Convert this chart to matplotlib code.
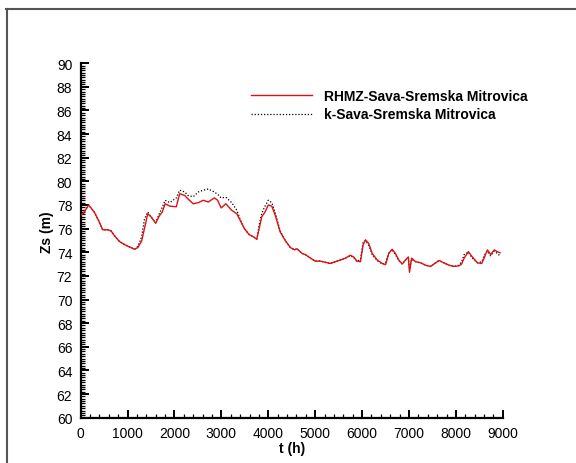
import matplotlib
matplotlib.use("Agg")
import matplotlib.pyplot as plt
from matplotlib.ticker import MultipleLocator
from matplotlib.lines import Line2D

plt.rcParams['font.family'] = ['Liberation Sans', 'DejaVu Sans']

t_hours = [0, 60, 170, 290, 380, 470, 577, 650, 720, 830, 935, 1040, 1150, 1220,
           1300, 1360, 1430, 1500, 1600, 1680, 1740, 1800, 1900, 2040, 2110, 2220,
           2290, 2400, 2510, 2615, 2720, 2850, 2920, 2995, 3095, 3220, 3330, 3400,
           3490, 3590, 3685, 3755, 3805, 3860, 3930, 4000, 4075, 4150, 4255, 4360,
           4470, 4560, 4610, 4720, 4790, 4900, 5000, 5110, 5215, 5320, 5430, 5540,
           5645, 5750, 5820, 5890, 5965, 6020, 6070, 6140, 6215, 6320, 6430, 6500,
           6570, 6640, 6710, 6780, 6855, 6925, 6985, 7010, 7055, 7140, 7250, 7355,
           7460, 7565, 7640, 7745, 7850, 7960, 8065, 8120, 8175, 8265, 8350, 8460,
           8550, 8600, 8670, 8740, 8815, 8880, 8940]

rhmz = [77.1, 77.3, 78.0, 77.4, 76.7, 75.9, 75.9, 75.8, 75.4, 74.9, 74.65, 74.45, 74.25, 74.4,
        74.95, 76.0, 77.25, 77.0, 76.45, 77.1, 77.4, 78.1, 77.9, 77.85, 78.95, 78.8,
        78.5, 78.1, 78.2, 78.4, 78.25, 78.6, 78.4, 77.75, 78.1, 77.55, 77.25, 76.7,
        76.0, 75.5, 75.3, 75.1, 76.0, 77.0, 77.4, 78.0, 77.9, 77.1, 75.7, 75.0,
        74.4, 74.2, 74.3, 73.9, 73.8, 73.5, 73.25, 73.25, 73.15, 73.05, 73.2, 73.35,
        73.5, 73.75, 73.6, 73.25, 73.2, 74.6, 75.05, 74.75, 73.9, 73.35, 73.05, 72.95,
        73.9, 74.25, 73.9, 73.35, 73.0, 73.35, 73.6, 72.3, 73.5, 73.2, 73.1, 72.9,
        72.8, 73.1, 73.3, 73.1, 72.9, 72.8, 72.85, 73.0, 73.5, 74.05, 73.6, 73.1,
        73.05, 73.5, 74.2, 73.8, 74.2, 74.05, 73.95]

k_sava = [77.1, 77.3, 78.0, 77.4, 76.7, 75.9, 75.9, 75.8, 75.4, 74.9, 74.65, 74.45, 74.25, 74.5,
          75.3, 76.8, 77.4, 77.0, 76.5, 77.3, 77.8, 78.4, 78.2, 78.6, 79.25, 79.1,
          78.8, 78.7, 79.1, 79.25, 79.35, 79.1, 78.9, 78.6, 78.65, 78.2, 77.55, 76.8,
          76.0, 75.5, 75.3, 75.1, 76.3, 77.3, 77.9, 78.4, 78.2, 77.3, 75.8, 75.0,
          74.4, 74.2, 74.3, 73.9, 73.8, 73.5, 73.25, 73.25, 73.15, 73.05, 73.2, 73.35,
          73.5, 73.7, 73.55, 73.2, 73.4, 74.8, 75.0, 74.6, 73.8, 73.3, 73.0, 73.1,
          74.0, 74.2, 73.8, 73.3, 73.0, 73.35, 73.5, 72.6, 73.4, 73.2, 73.1, 72.9,
          72.8, 73.1, 73.3, 73.1, 72.9, 72.8, 72.9, 73.2, 73.8, 74.0, 73.5, 73.1,
          73.2, 73.7, 74.1, 73.7, 74.1, 73.9, 73.7]

fig = plt.figure(figsize=(5.76, 4.64), dpi=100)
ax = fig.add_axes([0.140, 0.0977, 0.733, 0.764])

ax.plot(t_hours, rhmz, color='#e01010', lw=1.0, label='RHMZ-Sava-Sremska Mitrovica', zorder=3)
ax.plot(t_hours, k_sava, color='black', lw=0.9, linestyle=(0, (1, 1.5)),
        label='k-Sava-Sremska Mitrovica', zorder=2)

ax.set_xlim(0, 9000)
ax.set_ylim(60, 90)
ax.xaxis.set_major_locator(MultipleLocator(1000))
ax.xaxis.set_minor_locator(MultipleLocator(200))
ax.yaxis.set_major_locator(MultipleLocator(2))
ax.yaxis.set_minor_locator(MultipleLocator(0.2))

for s in ['top', 'right']:
    ax.spines[s].set_visible(False)
for s in ['left', 'bottom']:
    ax.spines[s].set_linewidth(1.6)
    ax.spines[s].set_color('black')

ax.tick_params(which='major', direction='in', length=6, width=1.4, labelsize=10, pad=6)
ax.tick_params(which='minor', direction='in', length=3, width=0.9)

ax.set_xlabel('t (h)', fontsize=10, fontweight='bold', labelpad=1)
ax.set_ylabel('Zs (m)', fontsize=10, fontweight='bold')
ax.yaxis.set_label_coords(47/576, 0.5, transform=fig.transFigure)
ax.yaxis.label.set_verticalalignment('center')

leg = ax.legend(loc='upper left', bbox_to_anchor=(0.391, 0.944), frameon=False,
                prop={'size': 10, 'weight': 'bold'}, handlelength=4.4,
                handletextpad=0.8, labelspacing=0.35, borderaxespad=0)

fig.add_artist(Line2D([6/576, 1.0], [1 - 9.5/464, 1 - 9.5/464], transform=fig.transFigure,
                      color='#555555', lw=1.5))
fig.add_artist(Line2D([6.5/576, 6.5/576], [0.0, 1 - 9.5/464], transform=fig.transFigure,
                      color='#555555', lw=1.5))

fig.savefig('out.png', dpi=100)
